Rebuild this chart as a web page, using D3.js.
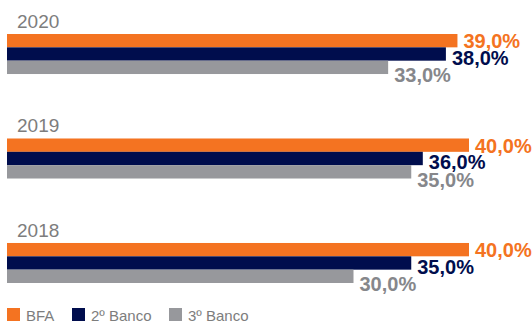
<!DOCTYPE html>
<html>
<head>
<meta charset="utf-8">
<script src="https://cdn.jsdelivr.net/npm/d3@7"></script>
<style>
	body { margin: 0; background: #fff; }
	text { font-family: "Liberation Sans", Arial, sans-serif; }
</style>
</head>
<body>
<div id="chart"></div>
<script>
var years = ['2020', '2019', '2018'];
var seriesNames = ['BFA', '2º Banco', '3º Banco'];
var bfaValues = [39, 40, 40];
var banco2Values = [38, 36, 35];
var banco3Values = [33, 35, 30];

var colors = ['#f47321', '#000d4d', '#97989c'];
var labelColors = ['#f47321', '#000d4d', '#86878b'];
var labelDy = [1, 4, 8]; // baseline offset below the bar bottom

var width = 532;
var height = 322;

var values = [bfaValues, banco2Values, banco3Values];

var svg = d3.select('#chart')
	.append('svg')
	.attr('width', width)
	.attr('height', height);

var x = d3.scaleLinear()
	.domain([0, 40])
	.range([7, 469]);

var y0 = d3.scaleBand()
	.domain(years)
	.range([34, 283])
	.paddingInner(0.617)
	.paddingOuter(0);

var y1 = d3.scaleBand()
	.domain(seriesNames)
	.range([0, y0.bandwidth()])
	.padding(0);

var groups = svg.selectAll('.group')
	.data(years)
	.enter()
	.append('g')
	.attr('class', 'group')
	.attr('transform', function(d){
		return 'translate(0,' + y0(d) + ')';
	});

groups.append('text')
	.attr('x', 17)
	.attr('y', -6)
	.attr('fill', '#7d7d7d')
	.style('font-size', '19px')
	.text(function(d){ return d; });

seriesNames.forEach(function(name, s){
	groups.append('rect')
		.attr('x', x(0))
		.attr('y', y1(name))
		.attr('height', y1.bandwidth())
		.attr('width', function(d, i){
			return x(values[s][i]) - x(0);
		})
		.attr('fill', colors[s]);
});

seriesNames.forEach(function(name, s){
	groups.append('text')
		.attr('x', function(d, i){
			return x(values[s][i]) + 6;
		})
		.attr('y', y1(name) + y1.bandwidth() + labelDy[s])
		.attr('fill', labelColors[s])
		.style('font-size', '20px')
		.style('font-weight', 'bold')
		.text(function(d, i){
			return values[s][i].toFixed(1).replace('.', ',') + '%';
		});
});

var legendX = [7, 72, 169];
var legend = svg.selectAll('.legend')
	.data(seriesNames)
	.enter()
	.append('g')
	.attr('class', 'legend')
	.attr('transform', function(d, i){
		return 'translate(' + legendX[i] + ',308)';
	});

legend.append('rect')
	.attr('width', 13)
	.attr('height', 13)
	.attr('fill', function(d, i){ return colors[i]; });

legend.append('text')
	.attr('x', 19)
	.attr('y', 13)
	.attr('fill', '#7d7d7d')
	.style('font-size', '15px')
	.text(function(d){ return d; });
</script>
</body>
</html>
